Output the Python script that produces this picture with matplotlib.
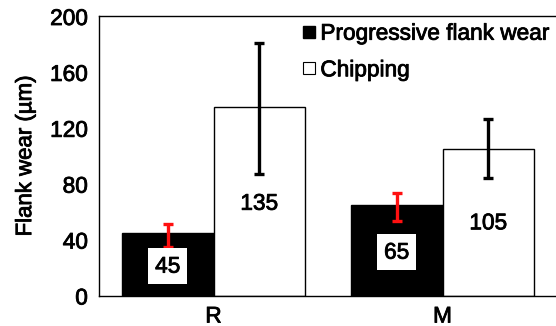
import matplotlib
matplotlib.use("Agg")
import matplotlib.pyplot as plt
import matplotlib.patheffects as pe
import numpy as np
from matplotlib.lines import Line2D

plt.rcParams['font.family'] = ['Liberation Sans', 'DejaVu Sans']

categories = ["R", "M"]
progressive = [45, 65]
chipping = [135, 105]
prog_err_low = [10, 12]
prog_err_high = [6, 8]
chip_err_low = [48, 21]
chip_err_high = [46, 21]
prog_labels = ["45", "65"]
chip_labels = ["135", "105"]
prog_label_y = [21, 31]
chip_label_y = [66, 52]

FS = 16.3
thick = [pe.withStroke(linewidth=0.6, foreground='black')]

fig = plt.figure(figsize=(5.56, 3.26), dpi=100)
ax = fig.add_axes([99/556, 30.5/326, 458/556, 279.5/326])

x = np.arange(len(categories))
w = 0.4
ax.bar(x - w/2, progressive, w, color='black', edgecolor='black', linewidth=1, zorder=2)
ax.bar(x + w/2, chipping, w, color='white', edgecolor='black', linewidth=1, zorder=2)
ax.errorbar(x - w/2, progressive, yerr=[prog_err_low, prog_err_high], fmt='none',
            ecolor='#ff1010', elinewidth=2.4, capsize=3.8, capthick=2.4, zorder=3)
ax.errorbar(x + w/2, chipping, yerr=[chip_err_low, chip_err_high], fmt='none',
            ecolor='black', elinewidth=2.4, capsize=3.8, capthick=2.4, zorder=3)

for xi, ly, t in zip(x - w/2, prog_label_y, prog_labels):
    ax.text(xi, ly, t, ha='center', va='center', fontsize=FS, zorder=4, path_effects=thick,
            bbox=dict(boxstyle='square,pad=0.3', facecolor='white', edgecolor='none'))
for xi, ly, t in zip(x + w/2, chip_label_y, chip_labels):
    ax.text(xi, ly, t, ha='center', va='center', fontsize=FS, zorder=4, path_effects=thick)

ax.set_xlim(-0.5, 1.5)
ax.set_ylim(0, 200)
ax.set_yticks([0, 40, 80, 120, 160, 200])
ax.set_xticks(x)
ax.set_xticklabels(categories)
ax.tick_params(axis='both', length=0, labelsize=FS)
ax.tick_params(axis='y', pad=8)
ax.tick_params(axis='x', pad=6.5)
ylab = ax.set_ylabel("Flank wear (\u00b5m)", fontsize=16, labelpad=10)
ylab.set_path_effects(thick)
for lbl in ax.get_xticklabels() + ax.get_yticklabels():
    lbl.set_path_effects(thick)
for s in ['left', 'bottom', 'top', 'right']:
    ax.spines[s].set_linewidth(1.0)

handles = [Line2D([], [], marker='s', linestyle='none', markersize=9,
                  markerfacecolor='black', markeredgecolor='black'),
           Line2D([], [], marker='s', linestyle='none', markersize=8,
                  markerfacecolor='white', markeredgecolor='black', markeredgewidth=0.8)]
leg = ax.legend(handles, ["Progressive flank wear", "Chipping"], loc='upper left',
                bbox_to_anchor=(0.424, 1.012), frameon=False, fontsize=FS,
                handlelength=0.6, handletextpad=0.2, labelspacing=0.6, borderaxespad=0.0)
for t in leg.get_texts():
    t.set_path_effects(thick)

fig.savefig("out.png", dpi=100)
